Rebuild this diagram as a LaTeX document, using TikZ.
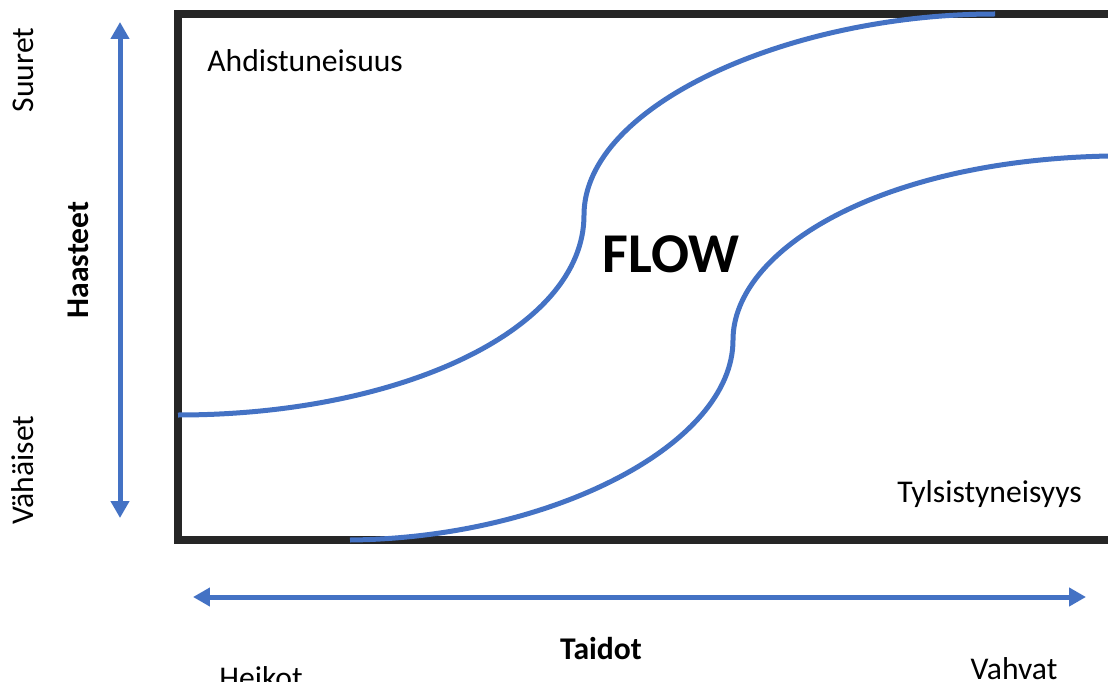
\documentclass[tikz,border=0pt]{standalone}
\usepackage{fontspec}
\setmainfont{Carlito}
\usepackage{xcolor}
\usetikzlibrary{arrows.meta,positioning}
\definecolor{flowblue}{HTML}{4472C4}
\definecolor{framegray}{HTML}{262626}

\begin{document}
\begin{tikzpicture}[x=0.02cm, y=-0.02cm,
        curve/.style={flowblue, line width=0.1cm},
        axisarrow/.style={flowblue, line width=0.1cm,
            {Triangle[width=0.36cm,length=0.34cm]}-{Triangle[width=0.36cm,length=0.34cm]}},
        lbl/.style={inner sep=0pt, font=\fontsize{18}{21}\selectfont},
        boldlbl/.style={inner sep=0pt, font=\fontsize{18}{21}\selectfont\bfseries}]
    \useasboundingbox (0,0) rectangle (1108,682);
    \clip (0,0) rectangle (1108,682);

    % Frame (right side runs off the picture)
    \draw[framegray, line width=0.16cm] (1140,14) -- (178,14) -- (178,540) -- (1140,540);

    % Flow channel borders
    \draw[curve] (178,415) .. controls (400,415) and (584,330) .. (584,215)
                           .. controls (584,105) and (790,14) .. (995,14);
    \draw[curve] (350,540) .. controls (550,538) and (733,445) .. (733,340)
                           .. controls (733,250) and (880,160) .. (1110,156);

    % Axes
    \coordinate (hTop) at (120,22);
    \coordinate (hBot) at (120,518);
    \coordinate (tLeft) at (193,597);
    \coordinate (tRight) at (1086,597);
    \draw[axisarrow] (hBot) -- (hTop);
    \draw[axisarrow] (tLeft) -- (tRight);

    % Labels
    \node[lbl, rotate=90, anchor=base] (suuret) at (33,70) {Suuret};
    \node[lbl, rotate=90, anchor=base] (vahaiset) at (33,470) {Vähäiset};
    \node[boldlbl, rotate=90, anchor=base] (haasteet) at (88,260) {Haasteet};
    \node[lbl, anchor=base west] (ahdist) at (207,72) {Ahdistuneisuus};
    \node[lbl, anchor=base west] (tylsis) at (897,502) {Tylsistyneisyys};
    \node[inner sep=0pt, anchor=base, font=\fontsize{32}{36}\selectfont\bfseries] (flow) at (671,272) {FLOW};
    \node[boldlbl, anchor=base] (taidot) at (601,659) {Taidot};
    \node[lbl, anchor=base] (heikot) at (261,688) {Heikot};
    \node[lbl, anchor=base] (vahvat) at (1014,679) {Vahvat};
\end{tikzpicture}
\end{document}
